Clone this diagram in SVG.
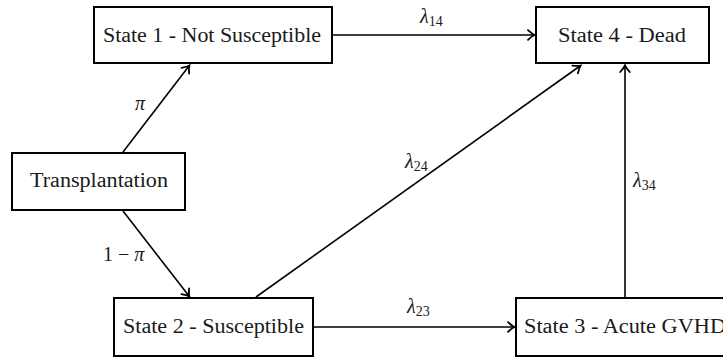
<svg xmlns="http://www.w3.org/2000/svg" width="723" height="358" viewBox="0 0 723 358">
<style>
.box{fill:#fff;stroke:#000;stroke-width:2}
.t{font-family:"Liberation Serif","DejaVu Serif",serif;font-size:20px;fill:#1a1a1a}
.m{font-family:"Liberation Serif","DejaVu Serif",serif;font-size:20px;font-style:italic;fill:#1a1a1a}
.s{font-family:"Liberation Serif","DejaVu Serif",serif;font-size:14px;fill:#1a1a1a}
.e{fill:none;stroke:#000;stroke-width:1.6;marker-end:url(#ah)}
</style>
<defs>
<marker id="ah" markerWidth="12" markerHeight="12" refX="0" refY="0" viewBox="-6 -5 8 10" orient="auto" markerUnits="userSpaceOnUse">
<path d="M-5,-4 Q-1.5,-0.8 0.5,0 Q-1.5,0.8 -5,4" fill="none" stroke="#000" stroke-width="1.5" stroke-linecap="round"/>
</marker>
</defs>
<rect width="723" height="358" fill="#fff"/>
<g id="edges">
<line class="e" x1="123" y1="152" x2="189" y2="66"/>
<line class="e" x1="123" y1="211" x2="189" y2="296"/>
<line class="e" x1="333" y1="35" x2="534" y2="35"/>
<line class="e" x1="314" y1="327" x2="514" y2="327"/>
<line class="e" x1="256" y1="297" x2="580" y2="66"/>
<line class="e" x1="625" y1="297" x2="625" y2="66"/>
<text class="m" x="135" y="110">π</text>
<text class="t" x="103" y="261">1 <tspan>−</tspan> <tspan class="m">π</tspan></text>
<text class="m" x="420" y="23">λ<tspan class="s" font-style="normal" dy="3">14</tspan></text>
<text class="m" x="407" y="313">λ<tspan class="s" font-style="normal" dy="3">23</tspan></text>
<text class="m" x="405" y="168">λ<tspan class="s" font-style="normal" dy="3">24</tspan></text>
<text class="m" x="633" y="187">λ<tspan class="s" font-style="normal" dy="3">34</tspan></text>
</g>
<g id="n1">
<rect class="box" x="94" y="7" width="238" height="56"/>
<text class="t" x="103" y="42" textLength="218" lengthAdjust="spacingAndGlyphs">State 1 - Not Susceptible</text>
</g>
<g id="n4">
<rect class="box" x="536" y="7" width="173" height="56"/>
<text class="t" x="558" y="42" textLength="128" lengthAdjust="spacingAndGlyphs">State 4 - Dead</text>
</g>
<g id="n0">
<rect class="box" x="12" y="153" width="173" height="57"/>
<text class="t" x="30" y="187" textLength="138" lengthAdjust="spacingAndGlyphs">Transplantation</text>
</g>
<g id="n2">
<rect class="box" x="114" y="298" width="199" height="58"/>
<text class="t" x="123" y="333" textLength="181" lengthAdjust="spacingAndGlyphs">State 2 - Susceptible</text>
</g>
<g id="n3">
<rect class="box" x="516" y="298" width="220" height="58"/>
<text class="t" x="524" y="333" textLength="202" lengthAdjust="spacingAndGlyphs">State 3 - Acute GVHD</text>
</g>
</svg>
